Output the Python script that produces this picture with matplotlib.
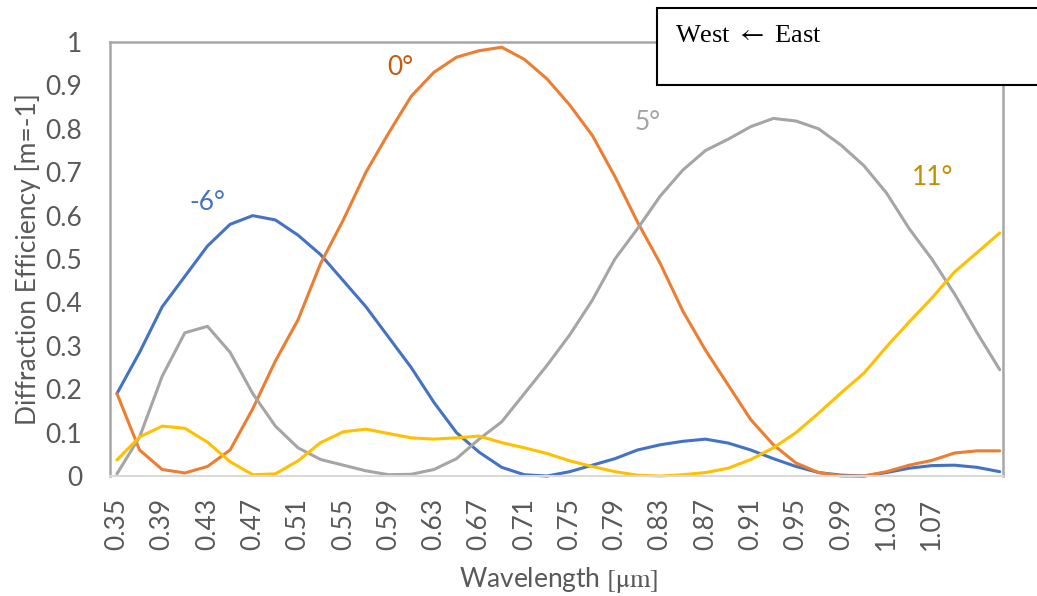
import numpy as np
import matplotlib
import matplotlib.pyplot as plt
from matplotlib.patches import Rectangle

matplotlib.use('Agg')

plt.rcParams['font.family'] = ['Lato', 'DejaVu Sans']
plt.rcParams['mathtext.fontset'] = 'stix'

# wavelength samples [um]
wavelength = np.round(np.arange(0.35, 1.1301, 0.02), 2)

# first-order diffraction efficiency for each incidence angle
eff_m6 = [0.19, 0.285, 0.39, 0.46, 0.53, 0.58, 0.60, 0.59, 0.555, 0.51,
          0.45, 0.39, 0.32, 0.25, 0.17, 0.10, 0.055, 0.02, 0.003, 0.0,
          0.01, 0.025, 0.04, 0.06, 0.072, 0.08, 0.085, 0.076, 0.06, 0.04,
          0.022, 0.008, 0.002, 0.0, 0.008, 0.018, 0.024, 0.025, 0.02, 0.01]
eff_0 = [0.19, 0.06, 0.015, 0.007, 0.022, 0.06, 0.155, 0.265, 0.36, 0.49,
         0.59, 0.70, 0.79, 0.875, 0.93, 0.965, 0.98, 0.988, 0.96, 0.915,
         0.855, 0.785, 0.69, 0.585, 0.49, 0.38, 0.29, 0.21, 0.13, 0.072,
         0.03, 0.008, 0.0, 0.0, 0.01, 0.025, 0.036, 0.053, 0.058, 0.058]
eff_5 = [0.005, 0.09, 0.23, 0.33, 0.345, 0.285, 0.19, 0.115, 0.065, 0.038,
         0.025, 0.012, 0.003, 0.004, 0.015, 0.04, 0.085, 0.125, 0.19, 0.255,
         0.325, 0.405, 0.50, 0.57, 0.645, 0.705, 0.75, 0.776, 0.805, 0.824,
         0.818, 0.80, 0.762, 0.715, 0.652, 0.57, 0.50, 0.42, 0.33, 0.245]
eff_11 = [0.037, 0.09, 0.115, 0.11, 0.078, 0.033, 0.003, 0.005, 0.035, 0.077,
          0.102, 0.108, 0.098, 0.088, 0.085, 0.088, 0.092, 0.077, 0.065, 0.052,
          0.035, 0.022, 0.01, 0.002, 0.0, 0.003, 0.008, 0.018, 0.038, 0.065,
          0.10, 0.145, 0.192, 0.237, 0.298, 0.355, 0.41, 0.47, 0.515, 0.56]

series = [eff_m6, eff_0, eff_5, eff_11]
line_colors = ['#4472C4', '#ED7D31', '#A5A5A5', '#FFC000']
angle_labels = ['-6°', '0°', '5°', '11°']
label_colors = ['#4472C4', '#C55A11', '#A5A5A5', '#BF9000']
label_pos = [(0.4295, 0.63), (0.60, 0.942), (0.819, 0.815), (1.071, 0.688)]

xticks = np.round(np.arange(0.35, 1.0701, 0.04), 2)
yticks = np.round(np.arange(0, 1.01, 0.1), 1)

fig = plt.figure(figsize=(10.37, 5.96), dpi=100)
ax = fig.add_axes([0.106, 0.2013, 0.861, 0.7282])

for vals, c in zip(series, line_colors):
    ax.plot(wavelength, vals, color=c, linewidth=2.2, clip_on=False,
            solid_capstyle='round', solid_joinstyle='round')

for lab, c, (x, y) in zip(angle_labels, label_colors, label_pos):
    ax.text(x, y, lab, color=c, fontsize=19, ha='center', va='center')

ax.set_xlim(0.3438, 1.1327)
ax.set_ylim(0, 1.0)
ax.set_xticks(xticks)
ax.set_xticklabels([f'{t:.2f}' for t in xticks], rotation=90)
ax.set_yticks(yticks)
ax.set_yticklabels([f'{t:g}' for t in yticks])
ax.tick_params(axis='both', length=0, labelsize=19, labelcolor='#595959')
ax.tick_params(axis='y', pad=20)
ax.tick_params(axis='x', pad=16)

for side in ['left', 'top', 'right']:
    ax.spines[side].set_color('#A6A6A6')
    ax.spines[side].set_linewidth(1.8)
ax.spines['bottom'].set_color('#D9D9D9')
ax.spines['bottom'].set_linewidth(1.5)

ax.set_ylabel('Diffraction Efficiency [m=-1]', fontsize=19, color='#595959')
ax.yaxis.set_label_coords(-0.077, 0.5)
ax.set_xlabel(r'Wavelength $[\mathrm{\mu m}]$', fontsize=19, color='#595959')
ax.xaxis.set_label_coords(0.502, -0.205)

# direction note box in the top-right corner
fig.patches.append(Rectangle((0.6336, 0.857), 0.4, 0.129, transform=fig.transFigure,
                             facecolor='white', edgecolor='black', linewidth=1.5,
                             zorder=5))
fig.text(0.651, 0.93, r'West $\leftarrow$ East', fontsize=19,
         family=['Liberation Serif', 'DejaVu Serif'], va='baseline', zorder=6)

fig.savefig('out.png', dpi=100)
